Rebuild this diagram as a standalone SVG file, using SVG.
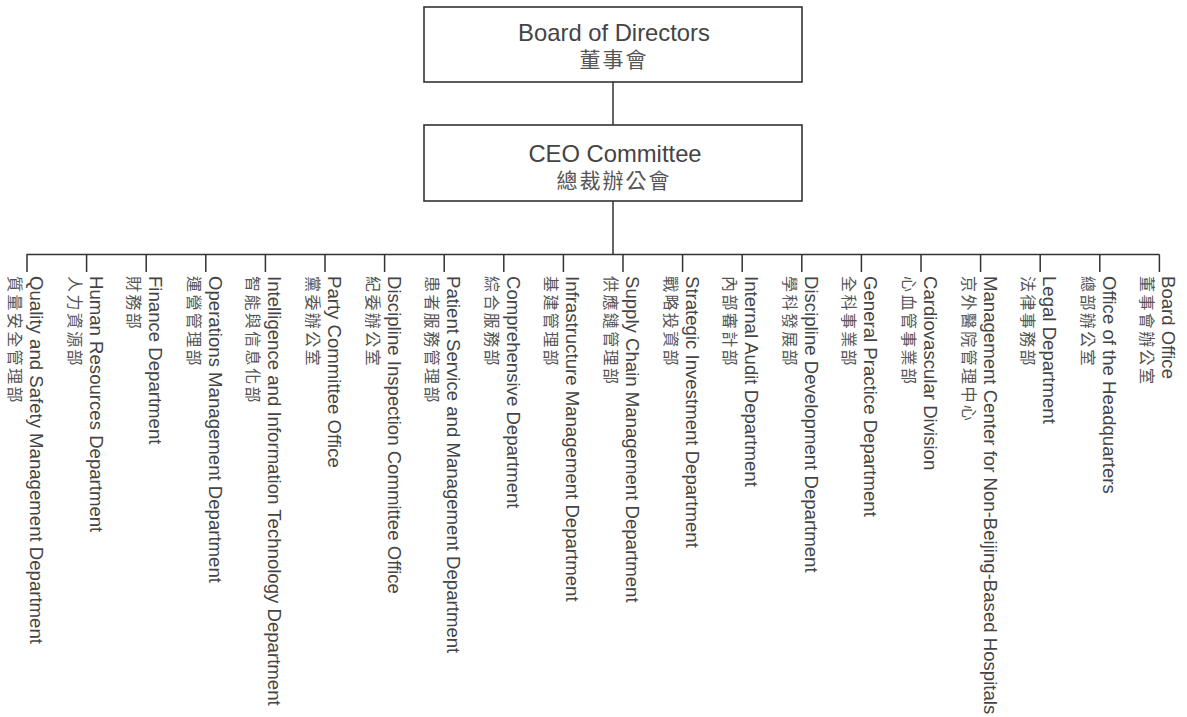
<svg xmlns="http://www.w3.org/2000/svg" width="1187" height="717" viewBox="0 0 1187 717">
<style>
.box{fill:#fff;stroke:#333;stroke-width:1.6}
.ln{stroke:#333;stroke-width:1.5;fill:none}
.en{font-family:"Liberation Sans",Arial,sans-serif;fill:#444}
.zh{font-family:"Liberation Sans","Noto Sans CJK TC",sans-serif;fill:#555}
.be{font-size:23.8px;text-anchor:middle}
.bz{font-size:21px;letter-spacing:2px;text-anchor:middle}
.le{font-size:18.6px}
.lz{font-size:16px;letter-spacing:2.4px}
</style>
<rect width="1187" height="717" fill="#fff"/>
<g id="connectors">
<line class="ln" x1="613" y1="82" x2="613" y2="125"/>
<line class="ln" x1="613" y1="201" x2="613" y2="254.5"/>
<line class="ln" x1="26.5" y1="254.5" x2="1159.5" y2="254.5"/>
<path class="ln" d="M27,254.5V272 M86.6,254.5V272 M146.2,254.5V272 M205.8,254.5V272 M265.4,254.5V272 M325,254.5V272 M384.6,254.5V272 M444.2,254.5V272 M503.8,254.5V272 M563.4,254.5V272 M623,254.5V272 M682.6,254.5V272 M742.2,254.5V272 M801.8,254.5V272 M861.4,254.5V272 M921,254.5V272 M980.6,254.5V272 M1040.2,254.5V272 M1099.8,254.5V272 M1159.4,254.5V272"/>
</g>
<g id="board">
<rect class="box" x="424" y="7" width="378" height="75"/>
<text class="en be" x="614" y="40.5">Board of Directors</text>
<text class="zh bz" x="614" y="66.5">董事會</text>
</g>
<g id="ceo">
<rect class="box" x="424" y="125" width="378" height="76"/>
<text class="en be" x="615" y="161.5">CEO Committee</text>
<text class="zh bz" x="614" y="188">總裁辦公會</text>
</g>
<g id="d1" transform="translate(30,276) rotate(90)"><text class="en le">Quality and Safety Management Department</text><text class="zh lz" y="21">質量安全管理部</text></g>
<g id="d2" transform="translate(89.6,276) rotate(90)"><text class="en le">Human Resources Department</text><text class="zh lz" y="21">人力資源部</text></g>
<g id="d3" transform="translate(149.2,276) rotate(90)"><text class="en le">Finance Department</text><text class="zh lz" y="21">財務部</text></g>
<g id="d4" transform="translate(208.8,276) rotate(90)"><text class="en le">Operations Management Department</text><text class="zh lz" y="21">運營管理部</text></g>
<g id="d5" transform="translate(268.4,276) rotate(90)"><text class="en le">Intelligence and Information Technology Department</text><text class="zh lz" y="21">智能與信息化部</text></g>
<g id="d6" transform="translate(328,276) rotate(90)"><text class="en le">Party Committee Office</text><text class="zh lz" y="21">黨委辦公室</text></g>
<g id="d7" transform="translate(387.6,276) rotate(90)"><text class="en le">Discipline Inspection Committee Office</text><text class="zh lz" y="21">紀委辦公室</text></g>
<g id="d8" transform="translate(447.2,276) rotate(90)"><text class="en le">Patient Service and Management Department</text><text class="zh lz" y="21">患者服務管理部</text></g>
<g id="d9" transform="translate(506.8,276) rotate(90)"><text class="en le">Comprehensive Department</text><text class="zh lz" y="21">綜合服務部</text></g>
<g id="d10" transform="translate(566.4,276) rotate(90)"><text class="en le">Infrastructure Management Department</text><text class="zh lz" y="21">基建管理部</text></g>
<g id="d11" transform="translate(626,276) rotate(90)"><text class="en le">Supply Chain Management Department</text><text class="zh lz" y="21">供應鏈管理部</text></g>
<g id="d12" transform="translate(685.6,276) rotate(90)"><text class="en le">Strategic Investment Department</text><text class="zh lz" y="21">戰略投資部</text></g>
<g id="d13" transform="translate(745.2,276) rotate(90)"><text class="en le">Internal Audit Department</text><text class="zh lz" y="21">內部審計部</text></g>
<g id="d14" transform="translate(804.8,276) rotate(90)"><text class="en le">Discipline Development Department</text><text class="zh lz" y="21">學科發展部</text></g>
<g id="d15" transform="translate(864.4,276) rotate(90)"><text class="en le">General Practice Department</text><text class="zh lz" y="21">全科事業部</text></g>
<g id="d16" transform="translate(924,276) rotate(90)"><text class="en le">Cardiovascular Division</text><text class="zh lz" y="21">心血管事業部</text></g>
<g id="d17" transform="translate(983.6,276) rotate(90)"><text class="en le">Management Center for Non-Beijing-Based Hospitals</text><text class="zh lz" y="21">京外醫院管理中心</text></g>
<g id="d18" transform="translate(1043.2,276) rotate(90)"><text class="en le">Legal Department</text><text class="zh lz" y="21">法律事務部</text></g>
<g id="d19" transform="translate(1102.8,276) rotate(90)"><text class="en le">Office of the Headquarters</text><text class="zh lz" y="21">總部辦公室</text></g>
<g id="d20" transform="translate(1162.4,276) rotate(90)"><text class="en le">Board Office</text><text class="zh lz" y="21">董事會辦公室</text></g>
</svg>
